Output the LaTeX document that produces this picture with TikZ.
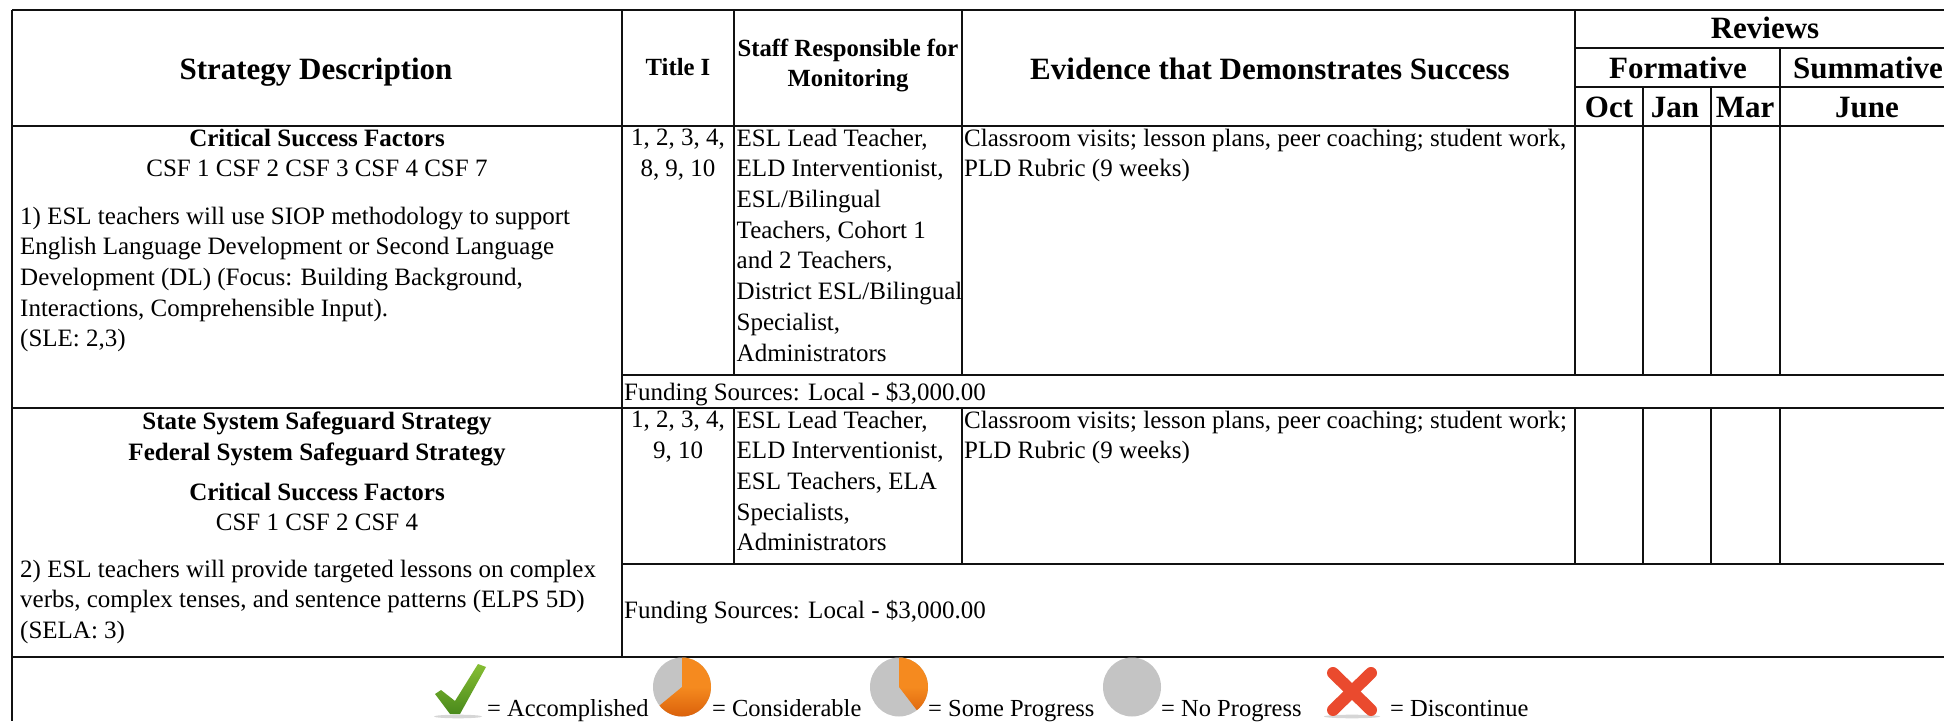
\documentclass[tikz,border=0pt]{standalone}
\usepackage{fontspec}
\setmainfont{Liberation Serif}
\definecolor{gridc}{HTML}{111111}
\definecolor{pieg}{HTML}{C4C4C4}
\definecolor{pieo}{HTML}{F58A1F}
\definecolor{pied}{HTML}{D95F0A}
\definecolor{xred}{HTML}{EA4A2E}
\definecolor{chk1}{HTML}{86BE33}
\definecolor{chk2}{HTML}{4A8A1C}
\tikzset{
 grid/.style={draw=gridc,line width=1.8pt},
 cell/.style={inner sep=0pt,font=\fontsize{25}{30.7}\selectfont,execute at begin node=\strut},
 cl/.style={cell,anchor=north west,align=left},
 cc/.style={cell,anchor=north,align=center},
 hbig/.style={inner sep=0pt,anchor=base,font=\fontsize{31}{34}\selectfont\bfseries},
 hsmall/.style={cell,anchor=north,align=center,font=\fontsize{24.7}{30.7}\selectfont\bfseries},
 leg/.style={inner sep=0pt,anchor=base west,font=\fontsize{24.5}{28}\selectfont},
 iconshadow/.style={fill=black!35,opacity=.45},
}
\newcommand{\piechart}[3]{% cx cy sweep
 \fill[pieg] (#1,#2) ellipse [x radius=29,y radius=29.5];
 \begin{scope}
 \clip (#1,#2) -- (#1,#2-29.5) arc [start angle=-90,end angle=-90+#3,x radius=29,y radius=29.5] -- cycle;
 \shade[top color=pieo,bottom color=pied,middle color=pieo] (#1-30,#2+31) rectangle (#1+30,#2-31);
 \end{scope}}
\begin{document}
\begin{tikzpicture}[x=1pt,y=1pt]
\useasboundingbox (0,0) rectangle (1944,721);
% all y measured from the top
\begin{scope}[shift={(0,721)},y=-1pt]
\fill[white] (0,0) rectangle (1944,721);
% grid
\draw[grid] (12,10) -- (1944,10);
\draw[grid] (12,126) -- (1944,126);
\draw[grid] (1575,48) -- (1944,48);
\draw[grid] (1575,87) -- (1944,87);
\draw[grid] (622,375) -- (1944,375);
\draw[grid] (12,408) -- (1944,408);
\draw[grid] (622,564) -- (1944,564);
\draw[grid] (12,657) -- (1944,657);
\draw[grid] (12,10) -- (12,721);
\draw[grid] (622,10) -- (622,657);
\draw[grid] (734,10) -- (734,375);
\draw[grid] (734,408) -- (734,564);
\draw[grid] (962,10) -- (962,375);
\draw[grid] (962,408) -- (962,564);
\draw[grid] (1575,10) -- (1575,375);
\draw[grid] (1575,408) -- (1575,564);
\draw[grid] (1643,87) -- (1643,375);
\draw[grid] (1643,408) -- (1643,564);
\draw[grid] (1711,87) -- (1711,375);
\draw[grid] (1711,408) -- (1711,564);
\draw[grid] (1780,48) -- (1780,375);
\draw[grid] (1780,408) -- (1780,564);
% header
\node[hbig] (hstrat) at (316,80) {Strategy Description};
\node[hsmall] (htitle) at (678,53.5) {Title I};
\node[hsmall] (hstaff) at (848,38.5) {Staff Responsible for\\Monitoring};
\node[hbig] (hevid) at (1270,80) {Evidence that Demonstrates Success};
\node[hbig] (hrev) at (1765,39) {Reviews};
\node[hbig] (hform) at (1678,79) {Formative};
\node[hbig] (hsum) at (1868,79) {Summative};
\node[hbig] (hoct) at (1609,118) {Oct};
\node[hbig] (hjan) at (1675,118) {Jan};
\node[hbig] (hmar) at (1745,118) {Mar};
\node[hbig] (hjun) at (1867,118) {June};
% row 1
\node[cc] (a1) at (317,128.6) {\textbf{Critical Success Factors}\\CSF 1 CSF 2 CSF 3 CSF 4 CSF 7};
\node[cl] (a2) at (20,206.5) {1) ESL teachers will use SIOP methodology to support\\English Language Development or Second Language\\Development (DL) (Focus: Building Background,\\Interactions, Comprehensible Input).\\(SLE: 2,3)};
\node[cc] (t1) at (678,128.6) {1, 2, 3, 4,\\8, 9, 10};
\node[cl] (s1) at (736.5,128.6) {ESL Lead Teacher,\\ELD Interventionist,\\ESL/Bilingual\\Teachers, Cohort 1\\and 2 Teachers,\\District ESL/Bilingual\\Specialist,\\Administrators};
\node[cl] (e1) at (964,128.6) {Classroom visits; lesson plans, peer coaching; student work,\\PLD Rubric (9 weeks)};
\node[cl] (f1) at (624,378.6) {Funding Sources: Local - \$3,000.00};
% row 2
\node[cc] (a3) at (317,411.5) {\textbf{State System Safeguard Strategy}\\\textbf{Federal System Safeguard Strategy}};
\node[cc] (a4) at (317,482.5) {\textbf{Critical Success Factors}\\CSF 1 CSF 2 CSF 4};
\node[cl] (a5) at (20,559.5) {2) ESL teachers will provide targeted lessons on complex\\verbs, complex tenses, and sentence patterns (ELPS 5D)\\(SELA: 3)};
\node[cc] (t2) at (678,410.6) {1, 2, 3, 4,\\9, 10};
\node[cl] (s2) at (736.5,410.6) {ESL Lead Teacher,\\ELD Interventionist,\\ESL Teachers, ELA\\Specialists,\\Administrators};
\node[cl] (e2) at (964,410.6) {Classroom visits; lesson plans, peer coaching; student work;\\PLD Rubric (9 weeks)};
\node[cl] (f2) at (624,596.6) {Funding Sources: Local - \$3,000.00};
% legend
\fill[iconshadow] (458,716.5) ellipse [x radius=24,y radius=1.8];
\shade[top color=chk1,bottom color=chk2] (435,694) -- (441,690) -- (455,701) -- (478,664) -- (486,667) -- (460,714) -- (450,714) -- cycle;
\node[leg] (l1) at (487,716) {= Accomplished};
\piechart{682}{687}{231}
\node[leg] (l2) at (712,716) {= Considerable};
\piechart{899}{687}{142}
\node[leg] (l3) at (928,716) {= Some Progress};
\fill[pieg] (1132,687) ellipse [x radius=29,y radius=29.5];
\node[leg] (l4) at (1161,716) {= No Progress};
\fill[iconshadow] (1352,716.5) ellipse [x radius=28,y radius=1.8];
\draw[xred,line width=12pt,line cap=round] (1333,673) -- (1371,710);
\draw[xred,line width=12pt,line cap=round] (1371,673) -- (1333,710);
\node[leg] (l5) at (1390,716) {= Discontinue};
\end{scope}
\end{tikzpicture}
\end{document}
